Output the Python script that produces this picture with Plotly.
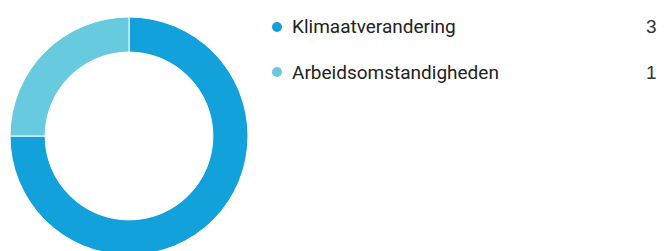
import plotly.graph_objects as go

labels = ["Klimaatverandering", "Arbeidsomstandigheden"]
values = [3, 1]
colors = ["#12A1DB", "#67CADF"]

W, H = 665, 255
MT = 17

fig = go.Figure()
fig.add_trace(go.Pie(
    labels=labels, values=values, sort=False, direction="clockwise", rotation=0,
    hole=0.705, marker=dict(colors=colors, line=dict(color="white", width=1)),
    textinfo="none", hoverinfo="label+value", showlegend=False,
    domain=dict(x=[10 / W, 248 / W], y=[0, 1]),
))

def py(ypx):
    return 1 - (ypx - MT) / (H - MT)

row_y = [27, 72]
for lab, val, col, yy in zip(labels, values, colors, row_y):
    yp = py(yy)
    fig.add_shape(type="circle", xref="paper", yref="paper",
                  xsizemode="pixel", ysizemode="pixel",
                  xanchor=277 / W, yanchor=yp, x0=-5, x1=5, y0=-5, y1=5,
                  fillcolor=col, line=dict(width=0))
    fig.add_annotation(x=292 / W, y=yp, xref="paper", yref="paper",
                       text=lab, showarrow=False, xanchor="left", yanchor="middle",
                       xshift=-2,
                       font=dict(family="Roboto", size=19, color="#222222"))
    fig.add_annotation(x=657 / W, y=yp, xref="paper", yref="paper",
                       text=str(val), showarrow=False, xanchor="right", yanchor="middle",
                       xshift=2,
                       font=dict(family="Liberation Sans", size=19, color="#333333"))

fig.update_layout(width=W, height=H, margin=dict(l=0, r=0, t=MT, b=0),
                  paper_bgcolor="white", plot_bgcolor="white")

fig.write_html("out.html", config={"displayModeBar": False},
               post_script="document.body.style.margin='0';document.body.style.overflow='hidden';")
